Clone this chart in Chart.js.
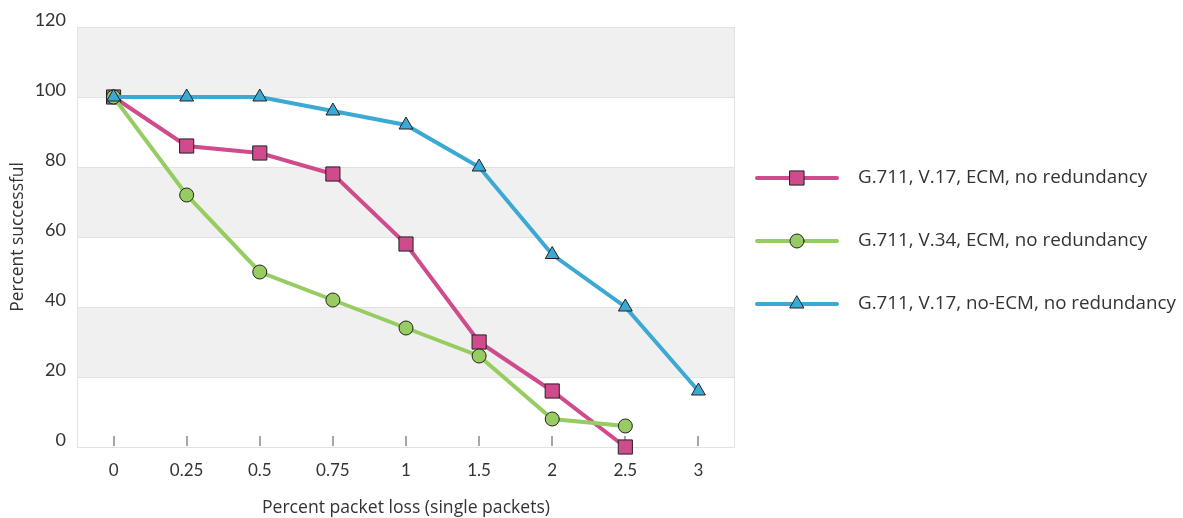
<!DOCTYPE html>
<html>
<head>
<meta charset="utf-8">
<script src="https://cdn.jsdelivr.net/npm/chart.js@4.4.1/dist/chart.umd.min.js"></script>
<style>
  html, body { margin: 0; padding: 0; background: #fff; }
  #wrap { width: 1183px; height: 518px; }
</style>
</head>
<body>
<div id="wrap"><canvas id="chart" width="1183" height="518"></canvas></div>
<script>
const lossLabels = ['0', '0.25', '0.5', '0.75', '1', '1.5', '2', '2.5', '3'];
const v17Ecm   = [100, 86, 84, 78, 58, 30, 16, 0, null];
const v34Ecm   = [100, 72, 50, 42, 34, 26, 8, 6, null];
const v17NoEcm = [100, 100, 100, 96, 92, 80, 55, 40, 16];
const seriesNames = [
  'G.711, V.17, ECM, no redundancy',
  'G.711, V.34, ECM, no redundancy',
  'G.711, V.17, no-ECM, no redundancy'
];
const yTicks = [0, 20, 40, 60, 80, 100, 120];

const PINK = '#cf4b8c';
const GREEN = '#97cc62';
const BLUE = '#3ca9d4';
const FONT = "Lato, 'Noto Sans', sans-serif";
const WIDE = "'Open Sans', Lato, sans-serif";

// alternating grey bands + inner tick marks + frame
const plotDecor = {
  id: 'plotDecor',
  beforeDatasetsDraw(chart) {
    const { ctx, chartArea: a, scales: { x, y } } = chart;
    ctx.save();
    ctx.fillStyle = '#f0f0f0';
    for (let i = 1; i < yTicks.length; i += 2) {
      const top = y.getPixelForValue(yTicks[i] + 20);
      const bot = y.getPixelForValue(yTicks[i]);
      ctx.fillRect(a.left, top, a.right - a.left, bot - top);
    }
    ctx.strokeStyle = '#e2e2e2';
    ctx.lineWidth = 1;
    yTicks.forEach(v => {
      const py = Math.round(y.getPixelForValue(v)) + 0.5;
      ctx.beginPath(); ctx.moveTo(a.left, py); ctx.lineTo(a.right, py); ctx.stroke();
    });
    ctx.strokeRect(a.left + 0.5, a.top + 0.5, a.right - a.left - 1, a.bottom - a.top);
    ctx.strokeStyle = '#a6a6ae';
    ctx.lineWidth = 2;
    lossLabels.forEach((_, i) => {
      const px = Math.round(x.getPixelForTick(i));
      ctx.beginPath(); ctx.moveTo(px, a.bottom - 11); ctx.lineTo(px, a.bottom - 1); ctx.stroke();
    });
    ctx.restore();
  }
};

// legend on the right: line with marker in the middle
const sideLegend = {
  id: 'sideLegend',
  afterDraw(chart) {
    const { ctx } = chart;
    const colors = [PINK, GREEN, BLUE];
    const styles = ['rect', 'circle', 'triangle'];
    const radii = [10, 7, 8];
    ctx.save();
    seriesNames.forEach((name, i) => {
      const yy = 178 + i * 63;
      ctx.strokeStyle = colors[i];
      ctx.lineWidth = 4;
      ctx.lineCap = 'round';
      ctx.beginPath(); ctx.moveTo(757, yy); ctx.lineTo(837, yy); ctx.stroke();
      ctx.fillStyle = colors[i];
      ctx.strokeStyle = '#222';
      ctx.lineWidth = 1;
      Chart.helpers.drawPoint(ctx, { pointStyle: styles[i], radius: radii[i], borderWidth: 1 }, 797, yy);
      ctx.fillStyle = '#333';
      ctx.font = '18.8px ' + WIDE;
      ctx.textBaseline = 'middle';
      ctx.fillText(name, 858, yy);
    });
    ctx.restore();
  }
};

function makeSet(label, data, color, style, radius, order) {
  return {
    label, data, order,
    borderColor: color,
    backgroundColor: color,
    borderWidth: 4,
    pointStyle: style,
    pointRadius: radius,
    pointHoverRadius: radius,
    pointBorderColor: '#222',
    pointBorderWidth: 1,
    pointBackgroundColor: color,
    tension: 0,
    clip: false,
    spanGaps: false
  };
}

new Chart(document.getElementById('chart'), {
  type: 'line',
  data: {
    labels: lossLabels,
    datasets: [
      makeSet(seriesNames[0], v17Ecm, PINK, 'rect', 10, 3),
      makeSet(seriesNames[1], v34Ecm, GREEN, 'circle', 7, 2),
      makeSet(seriesNames[2], v17NoEcm, BLUE, 'triangle', 8, 1)
    ]
  },
  options: {
    responsive: false,
    animation: false,
    layout: { padding: { top: 27, right: 448, left: 0, bottom: 0 } },
    plugins: { legend: { display: false }, tooltip: { enabled: false } },
    scales: {
      x: {
        grid: { display: false, drawTicks: false },
        border: { display: false },
        offset: true,
        ticks: { color: '#333', font: { family: FONT, size: 17 }, padding: 13, maxRotation: 0 },
        title: { display: true, text: 'Percent packet loss (single packets)', color: '#333',
                 font: { family: WIDE, size: 17.6 }, padding: { top: 17, bottom: -1 } },
        afterFit(s) { s.height = 71; }
      },
      y: {
        min: 0, max: 120,
        grid: { display: false, drawTicks: false },
        border: { display: false },
        ticks: { stepSize: 20, color: '#333', font: { family: FONT, size: 18 }, padding: 11, labelOffset: -7 },
        title: { display: true, text: 'Percent successful', color: '#333',
                 font: { family: WIDE, size: 17.4 }, padding: { top: 8, bottom: 0 } },
        afterFit(s) { s.width = 77; }
      }
    }
  },
  plugins: [plotDecor, sideLegend]
});
</script>
</body>
</html>
